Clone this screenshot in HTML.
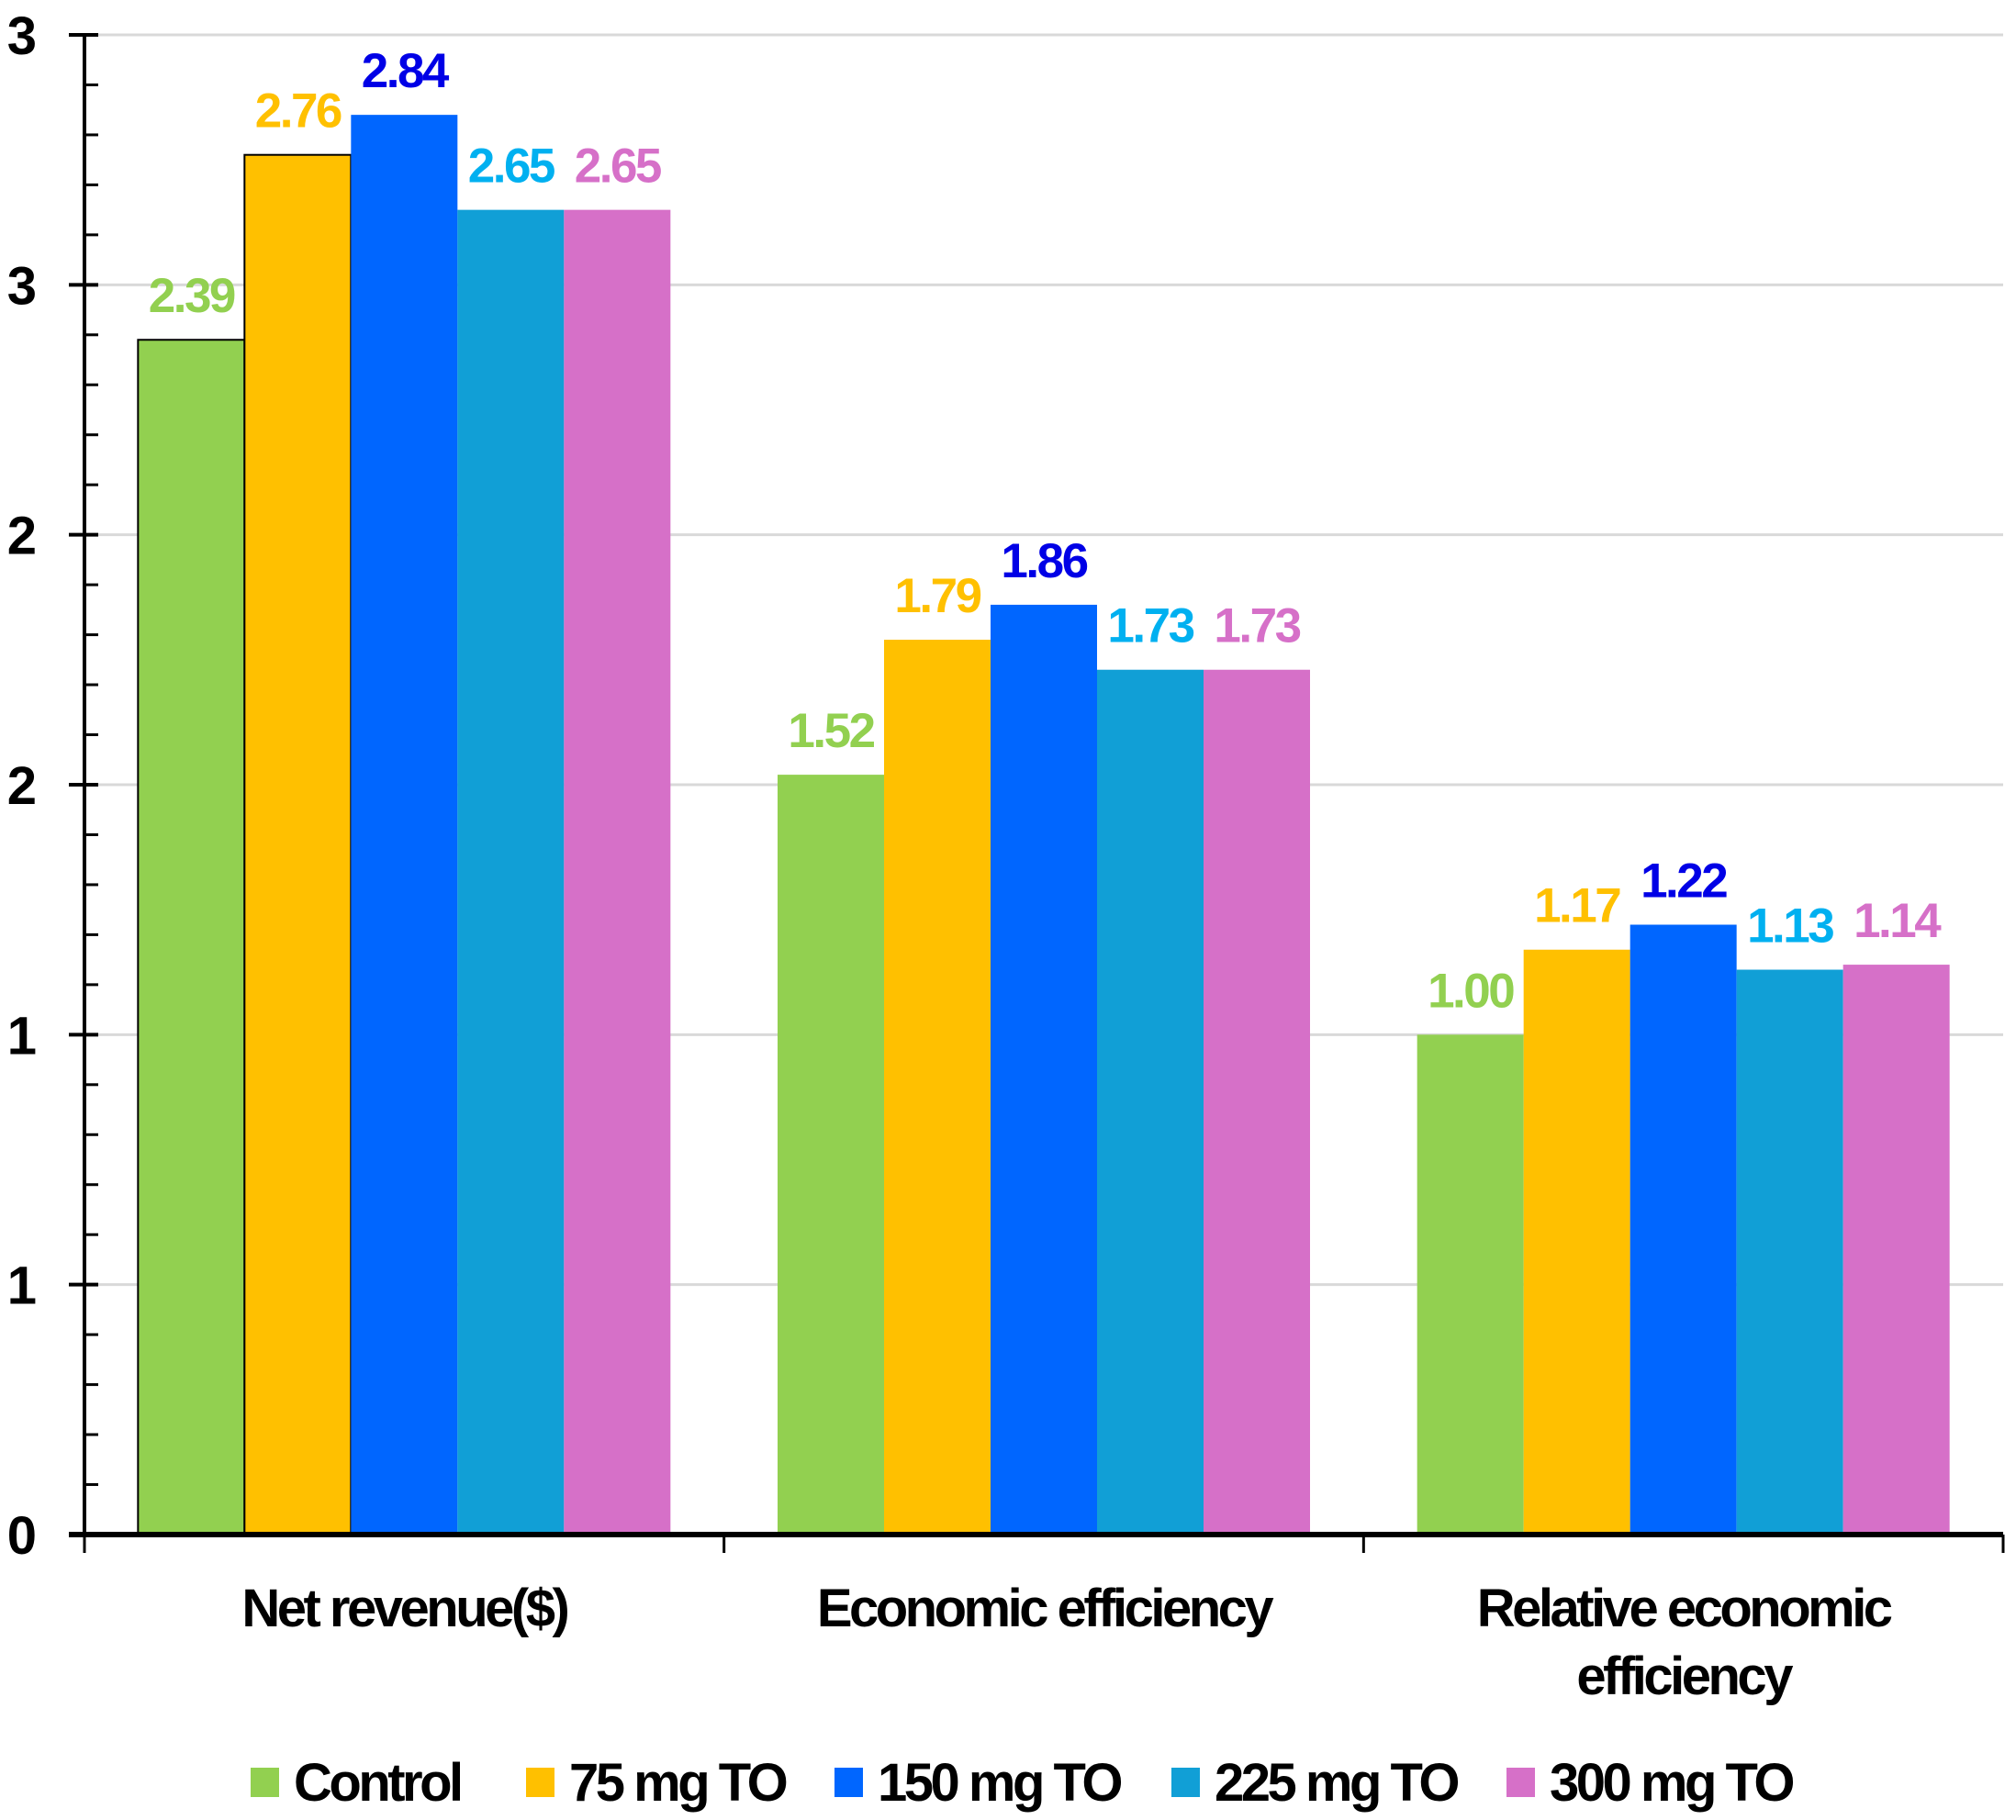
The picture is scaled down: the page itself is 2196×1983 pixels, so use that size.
<!DOCTYPE html>
<html><head><meta charset="utf-8"><style>
html,body{margin:0;padding:0;background:#fff}
svg{display:block}
text{font-family:"Liberation Sans",Arial,sans-serif;font-weight:bold}
</style></head><body>
<svg id="chart" width="2196" height="1983" viewBox="0 0 2196 1983" xmlns="http://www.w3.org/2000/svg"></svg>
<script>
const categories = [["Net revenue($)"], ["Economic efficiency"], ["Relative economic", "efficiency"]];
const seriesNames = ["Control", "75 mg TO", "150 mg TO", "225 mg TO", "300 mg TO"];
const controlValues = [2.39, 1.52, 1.00];
const mg75Values = [2.76, 1.79, 1.17];
const mg150Values = [2.84, 1.86, 1.22];
const mg225Values = [2.65, 1.73, 1.13];
const mg300Values = [2.65, 1.73, 1.14];
const tickValues = [0, 0.5, 1, 1.5, 2, 2.5, 3];
const tickLabels = ["0", "1", "1", "2", "2", "3", "3"];

const series = [controlValues, mg75Values, mg150Values, mg225Values, mg300Values];
const barColors = ["#92d050", "#ffc000", "#0066ff", "#119fd6", "#d670c8"];
const labelColors = ["#92d050", "#ffc000", "#0000e6", "#00b0f0", "#d670c8"];
const svg = document.getElementById('chart');
const NS = "http://www.w3.org/2000/svg";
const x0 = 92, x1 = 2182, y0 = 1672, yTop = 38, yMax = 3;
const groupW = (x1 - x0) / categories.length, barW = 116;
function y(v){ return y0 - (v / yMax) * (y0 - yTop); }
function mk(tag, attrs, parent){ const e = document.createElementNS(NS, tag); for (const k in attrs) e.setAttribute(k, attrs[k]); (parent||svg).appendChild(e); return e; }

tickValues.forEach((v, i) => {
  if (v > 0) {
    const g = mk('line', {x1: x0, x2: x1, y1: y(v), y2: y(v), stroke: '#d9d9d9', 'stroke-width': 3});
    
    
  }
  const t = mk('line', {x1: x0 - 17, x2: x0 + 15, y1: y(v), y2: y(v), stroke: '#000', 'stroke-width': 4});
  
  
  const lb = mk('text', {x: 40, y: y(v) + 21, 'text-anchor': 'end', 'font-size': 58, fill: '#000'});
  lb.textContent = tickLabels[i];
  
  
});
for (let k = 1; k < 30; k++) {
  if (k % 5 === 0) continue;
  const v = k / 10;
  const m = mk('line', {x1: x0, x2: x0 + 15, y1: y(v), y2: y(v), stroke: '#000', 'stroke-width': 3});
  
  
}

categories.forEach((cat, ci) => {
  const gx = x0 + ci * groupW + (groupW - barW * series.length) / 2;
  series.forEach((vals, si) => {
    const v = vals[ci];
    const bx = gx + si * barW;
    const attrs = {x: bx, y: y(v), width: barW, height: y0 - y(v), fill: barColors[si]};
    if (ci === 0 && si < 2) { attrs.stroke = '#000'; attrs['stroke-width'] = 2; }
    const r = mk('rect', attrs);
    
    
    const t = mk('text', {x: bx + barW / 2, y: y(v) - 30, 'text-anchor': 'middle', 'font-size': 53, fill: labelColors[si], 'letter-spacing': -2.5});
    t.textContent = v.toFixed(2);
    
    
  });
  cat.forEach((line, li) => {
    const ct = mk('text', {x: x0 + ci * groupW + groupW / 2, y: 1772 + li * 74, 'text-anchor': 'middle', 'font-size': 58, fill: '#000', 'letter-spacing': -3.5});
    ct.textContent = line;
    
    
  });
});

const ya = mk('line', {x1: x0, x2: x0, y1: yTop - 2, y2: y0, stroke: '#000', 'stroke-width': 4});


const xa = mk('line', {x1: x0 - 17, x2: x1, y1: y0, y2: y0, stroke: '#000', 'stroke-width': 6});


for (let i = 0; i <= categories.length; i++) {
  const gx = x0 + i * groupW;
  const s = mk('line', {x1: gx, x2: gx, y1: y0, y2: y0 + 20, stroke: '#000', 'stroke-width': 3});
  
  
}

const legendSwatchX = [273, 573, 909, 1276, 1641];
seriesNames.forEach((n, i) => {
  const g = mk('g', {});
  
  
  mk('rect', {x: legendSwatchX[i], y: 1926, width: 31, height: 32, fill: barColors[i]}, g);
  const t = mk('text', {x: legendSwatchX[i] + 47, y: 1962, 'font-size': 58, fill: '#000', 'letter-spacing': -3.5}, g);
  t.textContent = n;
});
</script>
</body></html>
